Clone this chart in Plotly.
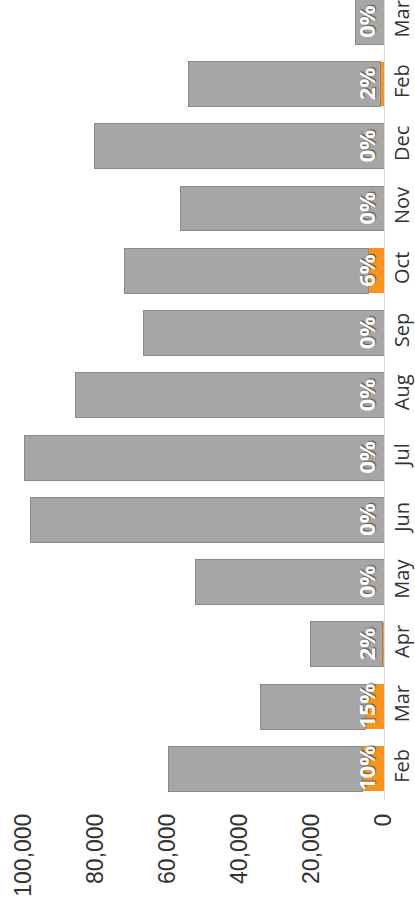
import plotly.graph_objects as go

months = ["Feb", "Mar", "Apr", "May", "Jun", "Jul", "Aug", "Sep", "Oct", "Nov", "Dec", "Feb", "Mar"]
totals = [60000, 34400, 20300, 52500, 98300, 100000, 85800, 66900, 72200, 56400, 80500, 54200, 7800]
pct = [10, 15, 2, 0, 0, 0, 0, 0, 6, 0, 0, 2, 0]
value_ticks = [0, 20000, 40000, 60000, 80000, 100000]
value_tick_labels = ["0", "20,000", "40,000", "60,000", "80,000", "100,000"]

orange = [t * p / 100 for t, p in zip(totals, pct)]
gray = [t - o for t, o in zip(totals, orange)]
pos = list(range(len(months)))

fig = go.Figure()
fig.add_trace(go.Bar(
    y=pos, x=orange, orientation="h", name="share",
    marker=dict(color="#f7931e", line=dict(width=0)),
    hoverinfo="skip",
))
fig.add_trace(go.Bar(
    y=pos, x=gray, orientation="h", name="rest",
    marker=dict(color="#a6a6a6", line=dict(color="#8a8a8a", width=1)),
    hoverinfo="skip",
))

for i, p in enumerate(pct):
    fig.add_annotation(
        x=0, y=pos[i], xref="x", yref="y",
        text=f"{p}%", showarrow=False, textangle=-90,
        xanchor="right", yanchor="middle", xshift=-1,
        font=dict(family="Open Sans", size=22, color="white", weight="bold",
                  shadow="1px 1px 1px #555"),
    )

fig.update_layout(
    barmode="stack",
    bargap=0.28,
    width=415, height=905,
    margin=dict(l=24, r=31, t=0, b=105),
    paper_bgcolor="white", plot_bgcolor="white",
    showlegend=False,
    xaxis=dict(
        range=[100000, 0],
        tickvals=value_ticks, ticktext=value_tick_labels,
        tickangle=-90, showgrid=False, zeroline=False, showline=False,
        ticks="", ticklabelstandoff=8,
        tickfont=dict(family="Liberation Sans", size=23, color="#333333"),
        automargin=False, fixedrange=True,
    ),
    yaxis=dict(
        range=[-0.5, 12.35], side="right",
        tickvals=pos, ticktext=months, tickangle=-90,
        showgrid=False, zeroline=False, showline=True, linecolor="#dddddd", linewidth=1,
        ticks="", ticklabelstandoff=0,
        tickfont=dict(family="Open Sans", size=20, color="#333333"),
        automargin=False, fixedrange=True,
    ),
)

fig.write_html("out.html")
